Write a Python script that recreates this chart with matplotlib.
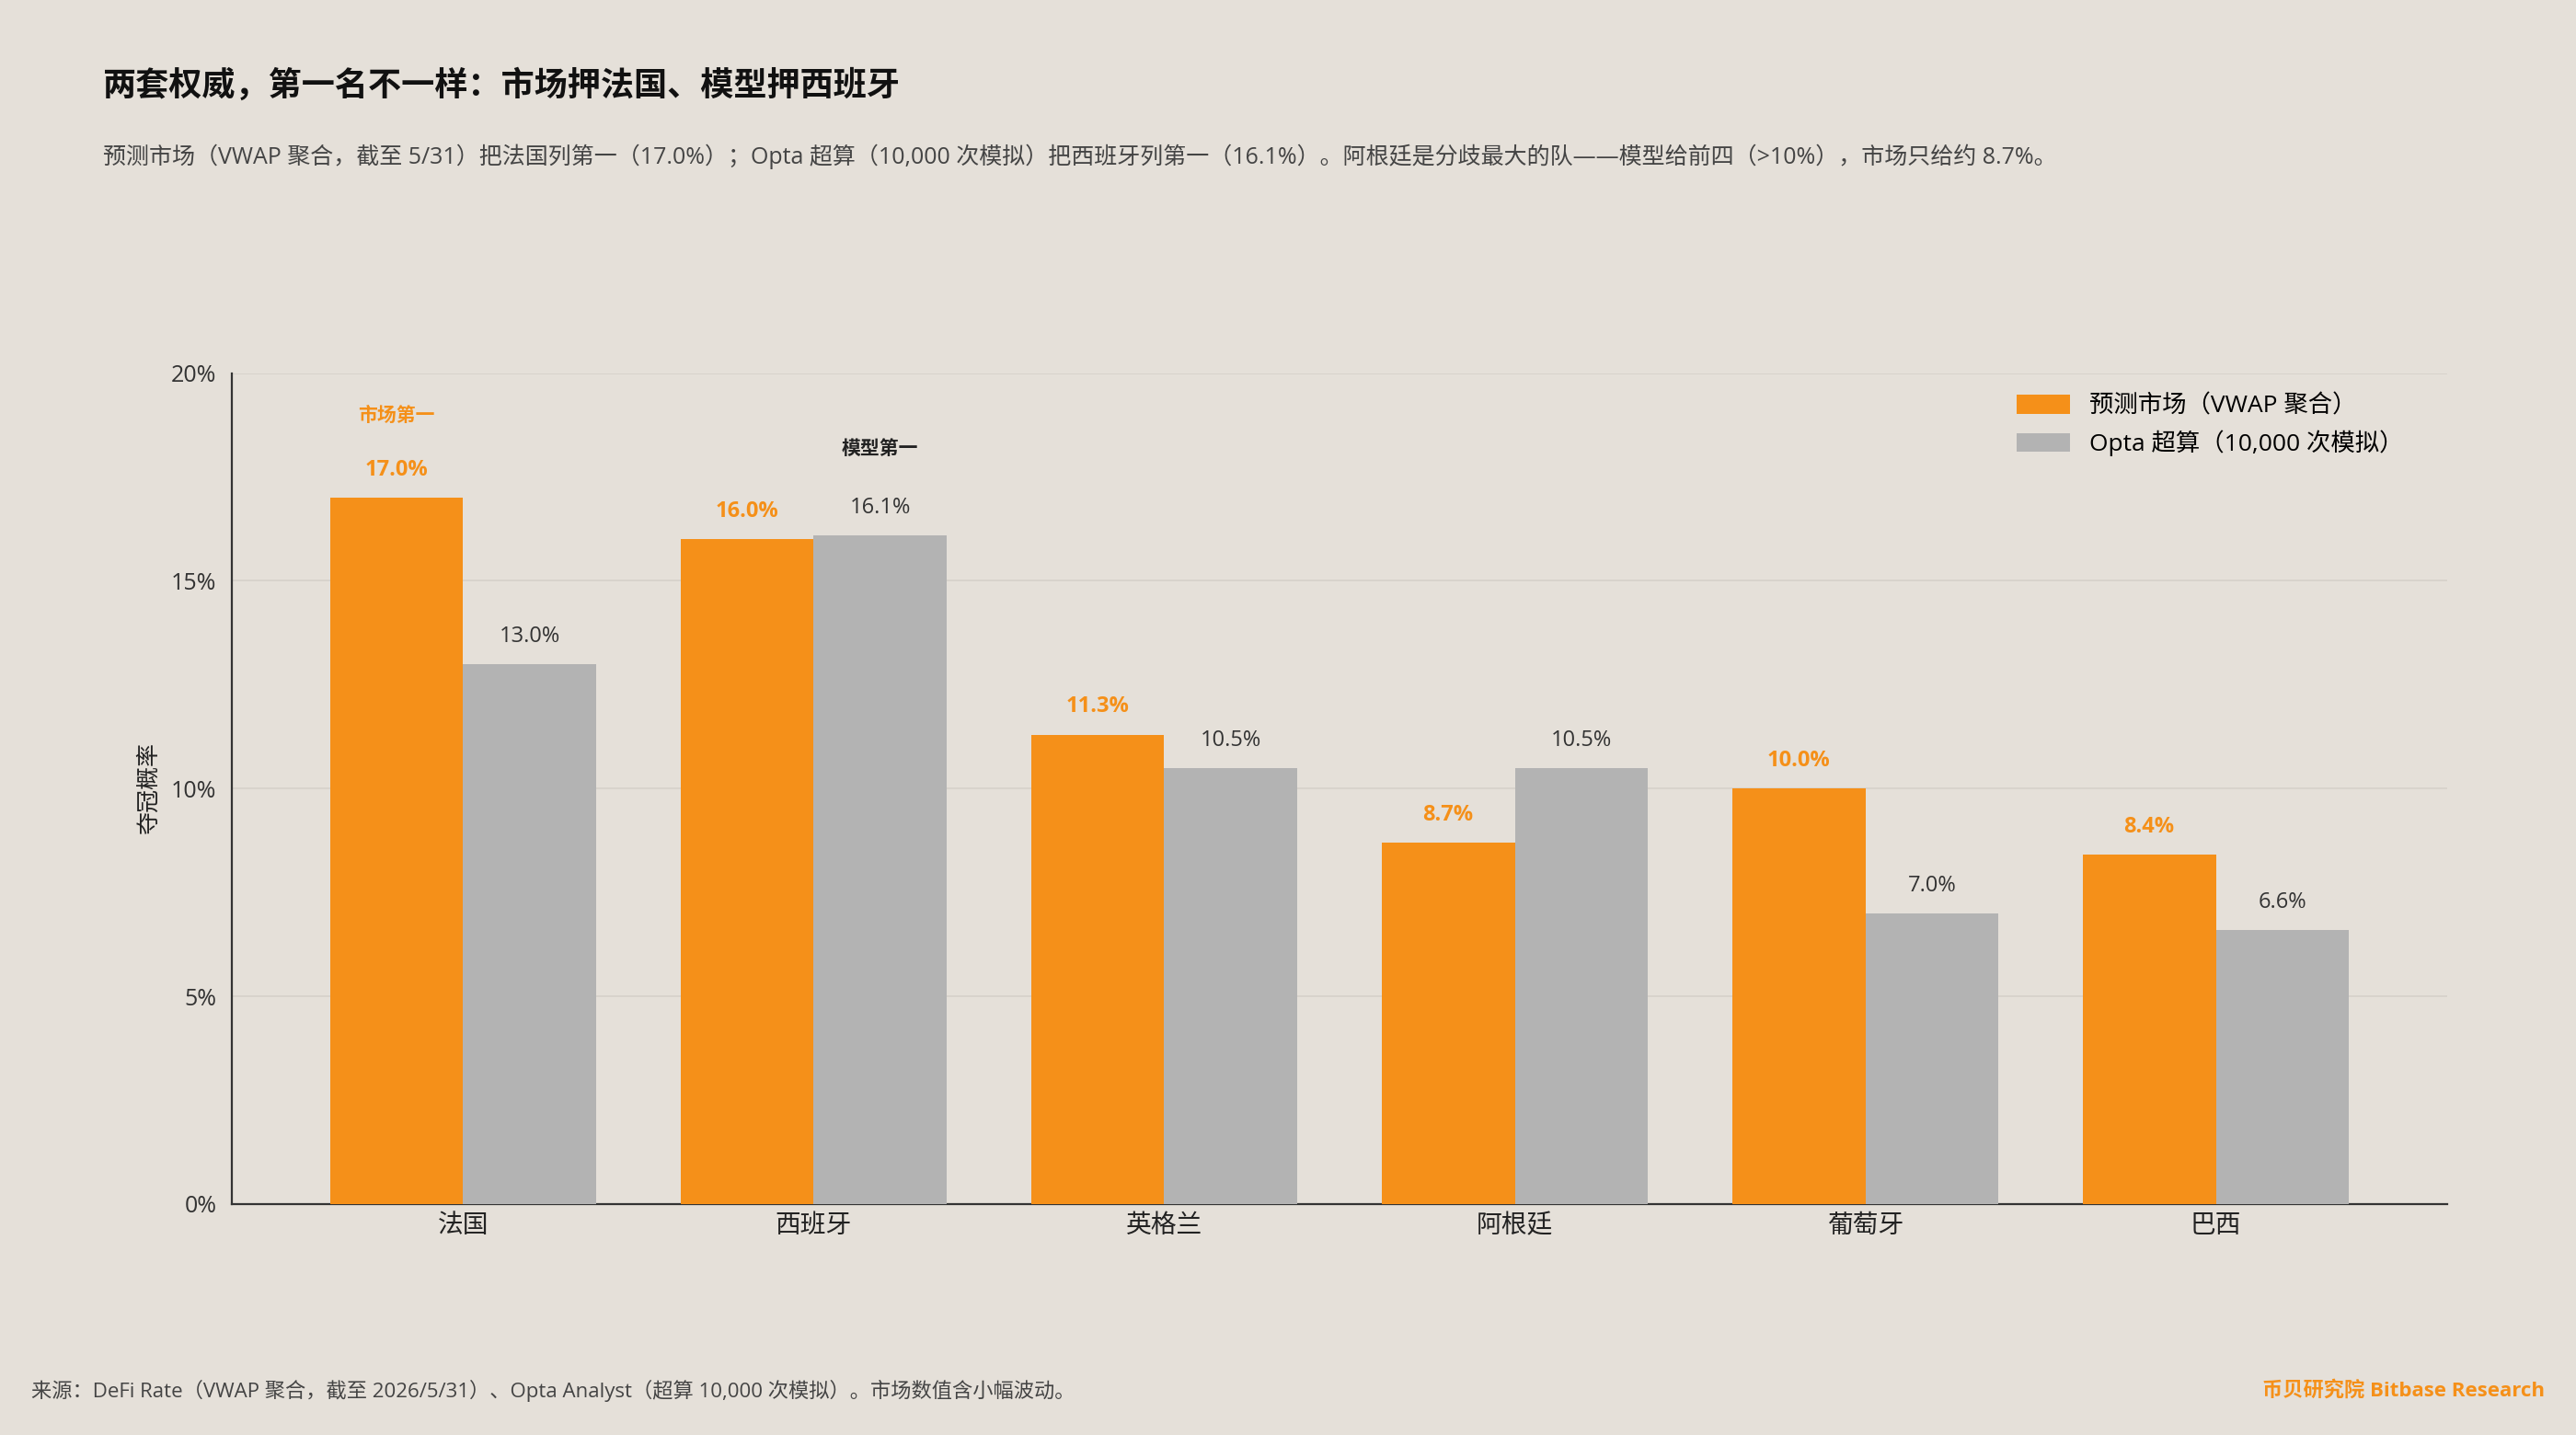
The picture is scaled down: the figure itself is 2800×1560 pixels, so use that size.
import matplotlib.pyplot as plt
import numpy as np
from matplotlib.ticker import FuncFormatter

plt.rcParams['font.family'] = ['Open Sans', 'Noto Sans CJK SC', 'DejaVu Sans']
cjk = ['Noto Sans CJK SC', 'DejaVu Sans']

teams = ['法国', '西班牙', '英格兰', '阿根廷', '葡萄牙', '巴西']
market = [17.0, 16.0, 11.3, 8.7, 10.0, 8.4]
opta = [13.0, 16.1, 10.5, 10.5, 7.0, 6.6]

bg = '#E5E0D9'
orange = '#F59019'
gray = '#B3B3B3'

fig = plt.figure(figsize=(14, 7.8), dpi=200, facecolor=bg)
ax = fig.add_axes([0.090, 0.161, 0.860, 0.579], facecolor=bg)

x = np.arange(len(teams))
w = 0.38
ax.bar(x - w / 2, market, w, color=orange, label='预测市场（VWAP 聚合）', zorder=3)
ax.bar(x + w / 2, opta, w, color=gray, label='Opta 超算（10,000 次模拟）', zorder=3)

for i in range(len(teams)):
    ax.text(x[i] - w / 2, market[i] + 0.4, f'{market[i]:.1f}%', ha='center', va='bottom',
            color=orange, fontsize=8.5, fontweight='bold')
    ax.text(x[i] + w / 2, opta[i] + 0.4, f'{opta[i]:.1f}%', ha='center', va='bottom',
            color='#333333', fontsize=8.5)

ax.text(x[0] - w / 2, 18.75, '市场第一', ha='center', va='bottom', color=orange, fontsize=7.5,
        fontweight='bold', family=cjk)
ax.text(x[1] + w / 2, 17.95, '模型第一', ha='center', va='bottom', color='#222222', fontsize=7.5,
        fontweight='bold', family=cjk)

ax.set_ylim(0, 20)
ax.set_xlim(-0.66, 5.66)
ax.set_yticks([0, 5, 10, 15, 20])
ax.yaxis.set_major_formatter(FuncFormatter(lambda v, p: f'{v:.0f}%'))
ax.set_xticks(x)
ax.set_xticklabels(teams, fontsize=10, family=cjk)
ax.tick_params(axis='y', labelsize=9, colors='#333333', length=0, pad=6)
ax.tick_params(axis='x', length=0, pad=3, colors='#222222')
ax.grid(axis='y', color='#D6D1CA', linewidth=0.6, zorder=0)
for s in ['top', 'right']:
    ax.spines[s].set_visible(False)
ax.spines['left'].set_color('#333333')
ax.spines['bottom'].set_color('#333333')
ax.set_ylabel('夺冠概率', fontsize=9, color='#222222', family=cjk)

ax.legend(loc='upper right', frameon=False, fontsize=9.5, bbox_to_anchor=(0.99, 1.0),
          handlelength=2.2, handleheight=0.8)

fig.text(0.040, 0.940, '两套权威，第一名不一样：市场押法国、模型押西班牙', fontsize=13, fontweight='bold',
         color='#111111', va='center', family=cjk)
fig.text(0.040, 0.891, '预测市场（VWAP 聚合，截至 5/31）把法国列第一（17.0%）；Opta 超算（10,000 次模拟）把西班牙列第一（16.1%）。'
         '阿根廷是分歧最大的队——模型给前四（>10%），市场只给约 8.7%。', fontsize=9, color='#444444', va='center')
fig.text(0.012, 0.031, '来源：DeFi Rate（VWAP 聚合，截至 2026/5/31）、Opta Analyst（超算 10,000 次模拟）。市场数值含小幅波动。',
         fontsize=8, color='#444444', va='center')
fig.text(0.988, 0.031, '币贝研究院 Bitbase Research', fontsize=8, color=orange, fontweight='bold',
         ha='right', va='center')

fig.savefig('out.png', dpi=200, facecolor=bg)
